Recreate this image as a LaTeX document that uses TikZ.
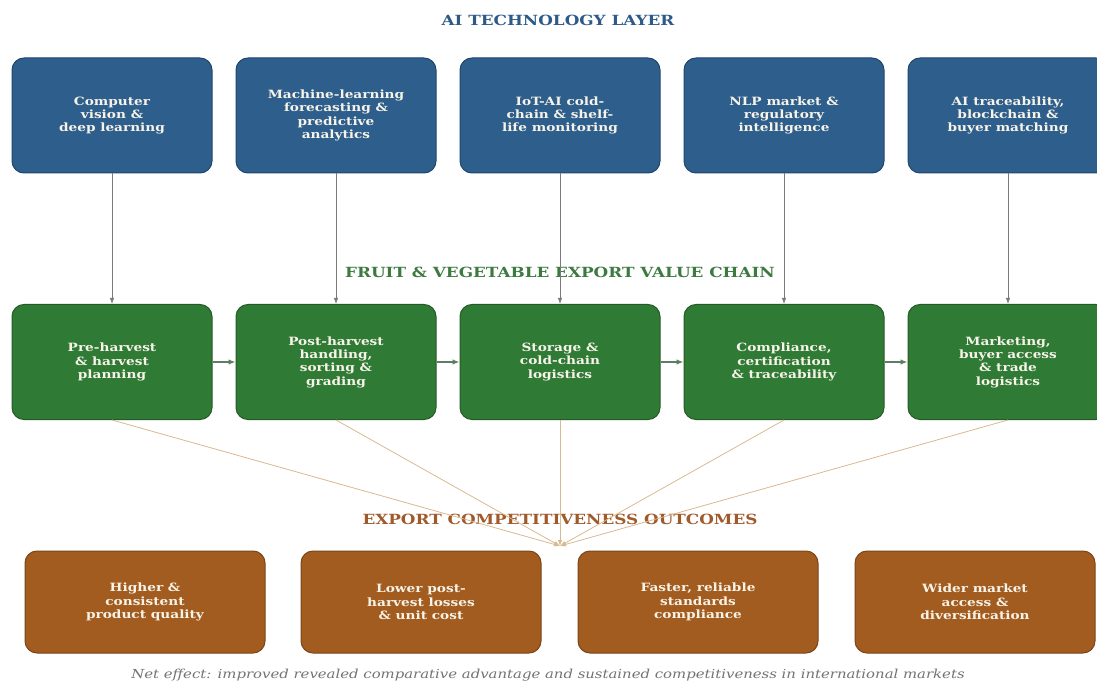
\documentclass[tikz,border=0pt]{standalone}
\usepackage{fontspec}
\setmainfont{DejaVu Serif}[FakeStretch=1.2]
\usetikzlibrary{arrows.meta, positioning, calc}
\definecolor{techblue}{HTML}{2D5E8C}
\definecolor{chaingreen}{HTML}{2F7A35}
\definecolor{outbrown}{HTML}{A35C1F}
\definecolor{titleblue}{HTML}{2E5A88}
\definecolor{titlegreen}{HTML}{3C7A40}
\definecolor{titlebrown}{HTML}{A0592A}
\definecolor{linktan}{HTML}{D9B98F}
\definecolor{linkgray}{HTML}{7A7A7A}
\definecolor{boxtext}{HTML}{F7F3E8}

\begin{document}
\begin{tikzpicture}[
        x=1pt, y=-1pt,
        box/.style={rectangle, rounded corners=12pt, text=boxtext, line width=1pt,
                    minimum height=115pt, minimum width=200pt, align=center,
                    font=\fontsize{11.4}{13.3}\selectfont\bfseries},
        tech/.style={box, fill=techblue, draw=techblue!75!black},
        chain/.style={box, fill=chaingreen, draw=chaingreen!75!black},
        outcome/.style={box, fill=outbrown, draw=outbrown!75!black,
                        minimum width=240pt, minimum height=102pt},
        layertitle/.style={font=\fontsize{14}{16}\selectfont\bfseries},
        arr/.style={-{Latex[length=6pt, width=4.5pt]}, linkgray, line width=0.8pt},
        flow/.style={-{Latex[length=7pt, width=5.5pt]}, gray!60!chaingreen, line width=1.3pt},
        effect/.style={-{Latex[length=6pt, width=4.5pt]}, linktan, line width=0.8pt}
      ]
        \useasboundingbox (0,0) rectangle (1097,684);
        \begin{scope}
        \clip (0,0) rectangle (1097,684);

        % technology layer
        \node[layertitle, text=titleblue] (ttech) at (558,20) {AI TECHNOLOGY LAYER};
        \node[tech] (cv)  at (112,115.5) {Computer\\vision \&\\deep learning};
        \node[tech] (ml)  at (336,115.5) {Machine-learning\\forecasting \&\\predictive\\analytics};
        \node[tech] (iot) at (560,115.5) {IoT-AI cold-\\chain \& shelf-\\life monitoring};
        \node[tech] (nlp) at (784,115.5) {NLP market \&\\regulatory\\intelligence};
        \node[tech] (bc)  at (1008,115.5) {AI traceability,\\blockchain \&\\buyer matching};

        % value chain
        \node[layertitle, text=titlegreen] (tchain) at (560,272) {FRUIT \& VEGETABLE EXPORT VALUE CHAIN};
        \node[chain] (pre)  at (112,362) {Pre-harvest\\\& harvest\\planning};
        \node[chain] (post) at (336,362) {Post-harvest\\handling,\\sorting \&\\grading};
        \node[chain] (cold) at (560,362) {Storage \&\\cold-chain\\logistics};
        \node[chain] (comp) at (784,362) {Compliance,\\certification\\\& traceability};
        \node[chain] (mkt)  at (1008,362) {Marketing,\\buyer access\\\& trade\\logistics};

        % outcomes
        \node[layertitle, text=titlebrown] (tout) at (560,519) {EXPORT COMPETITIVENESS OUTCOMES};
        \node[outcome] (qual) at (145,602) {Higher \&\\consistent\\product quality};
        \node[outcome] (loss) at (421,602) {Lower post-\\harvest losses\\\& unit cost};
        \node[outcome] (std)  at (698,602) {Faster, reliable\\standards\\compliance};
        \node[outcome] (acc)  at (975,602) {Wider market\\access \&\\diversification};
        \coordinate (hub) at (560,546);

        \node[font=\fontsize{12.4}{14}\selectfont\itshape, text=gray!90!black] (net) at (548,675)
          {Net effect: improved revealed comparative advantage and sustained competitiveness in international markets};

        % AI tools feed the chain
        \draw[arr] (cv)  -- (pre);
        \draw[arr] (ml)  -- (post);
        \draw[arr] (iot) -- (cold);
        \draw[arr] (nlp) -- (comp);
        \draw[arr] (bc)  -- (mkt);

        % chain flow
        \draw[flow] (pre)  -- (post);
        \draw[flow] (post) -- (cold);
        \draw[flow] (cold) -- (comp);
        \draw[flow] (comp) -- (mkt);

        % chain to outcomes
        \foreach \stage in {pre, post, cold, comp, mkt}
          \draw[effect] (\stage.south) -- (hub);
        \end{scope}
      \end{tikzpicture}
\end{document}
